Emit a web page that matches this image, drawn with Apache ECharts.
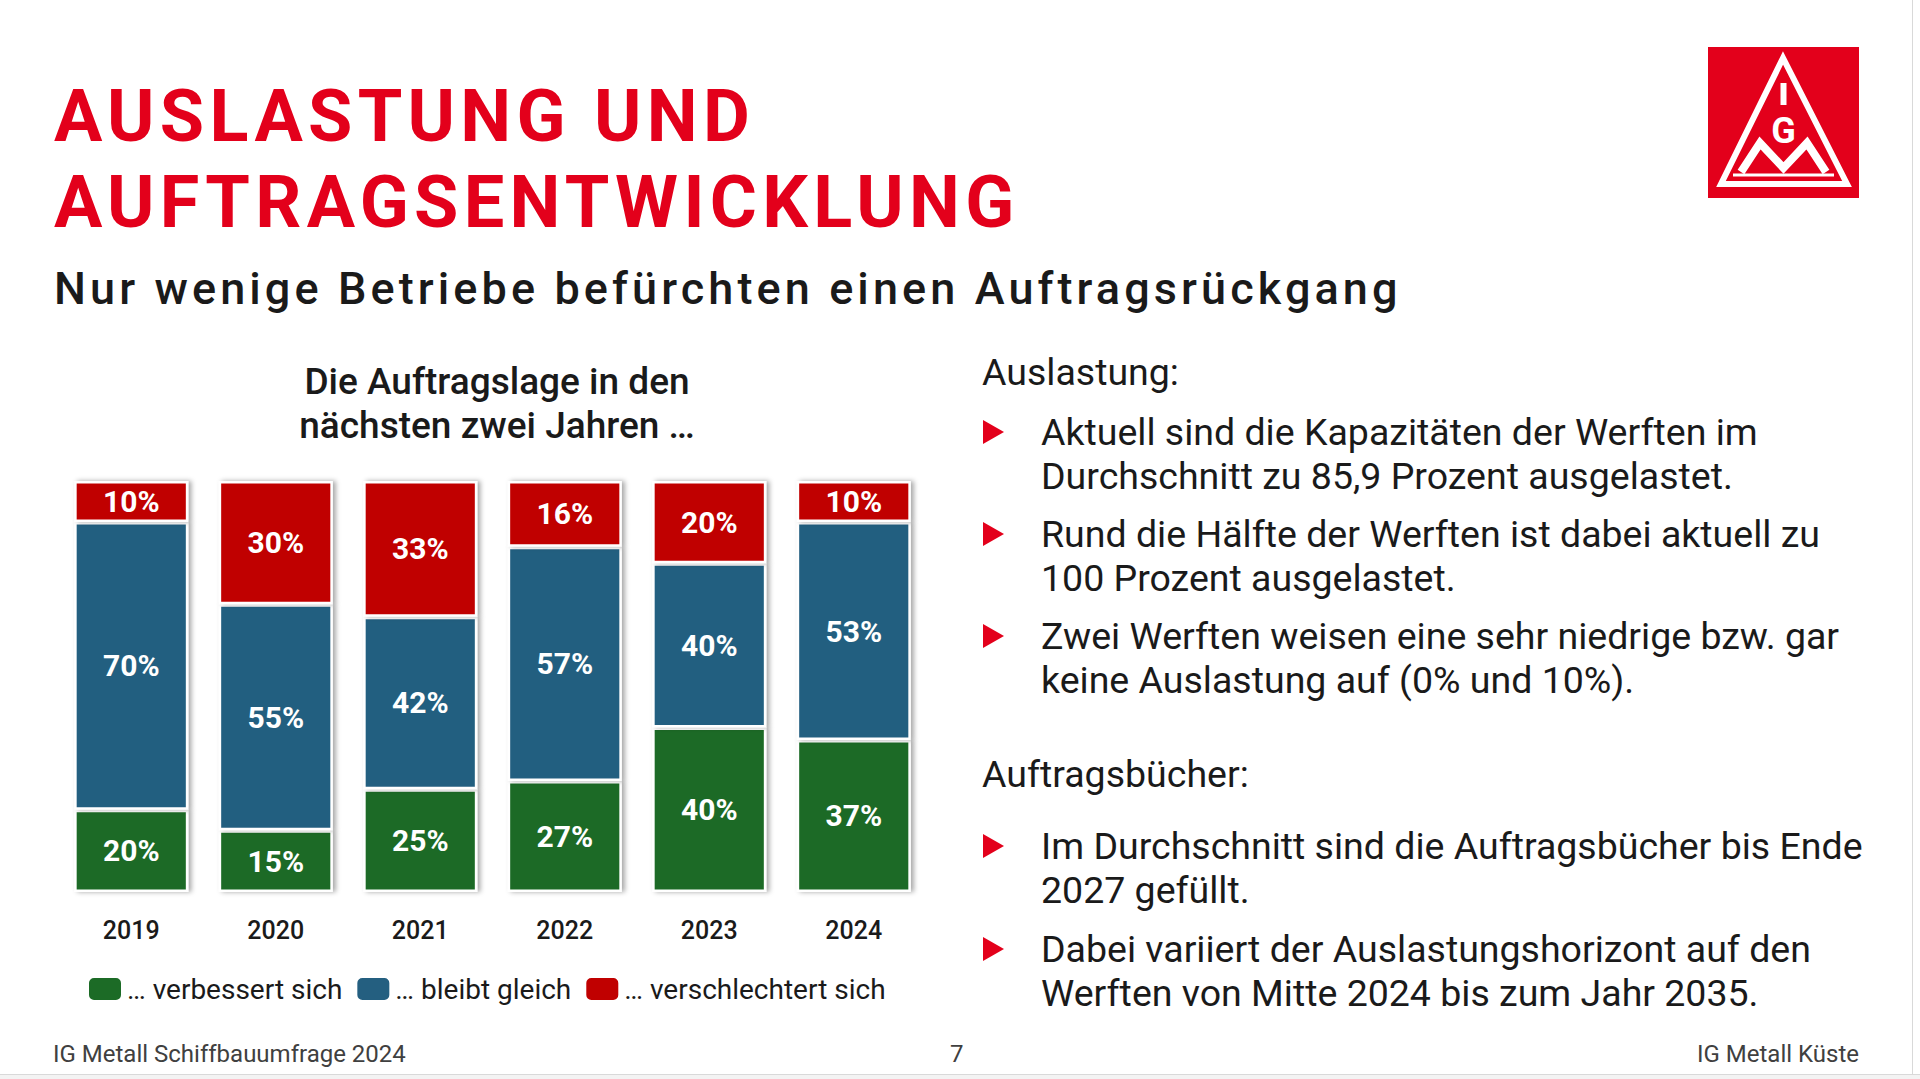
<!DOCTYPE html>
<html>
<head>
<meta charset="utf-8">
<script src="https://cdn.jsdelivr.net/npm/echarts@6/dist/echarts.min.js"></script>
<style>
  html,body{margin:0;padding:0;background:#fff;}
  body{width:1920px;height:1079px;position:relative;overflow:hidden;font-family:Roboto,"Noto Sans",sans-serif;color:#1a1a1a;}
  #chart{position:absolute;left:0;top:0;width:1920px;height:1079px;}
  .abs{position:absolute;white-space:nowrap;}
  .title{left:54px;font-size:72px;line-height:84px;height:84px;font-weight:700;color:#e3001b;letter-spacing:5.3px;}
  .sub{left:54px;top:264px;font-size:45px;line-height:50px;font-weight:500;color:#1a1a1a;letter-spacing:4.1px;}
  .txt{font-size:37.5px;line-height:44px;color:#1a1a1a;}
  .tri{position:absolute;width:0;height:0;border-top:12px solid transparent;border-bottom:12px solid transparent;border-left:21px solid #e3001b;}
  .foot{font-size:24px;line-height:28px;color:#404040;}
</style>
</head>
<body>
<div id="chart"></div>

<div class="abs title" style="top:75px;">AUSLASTUNG UND</div>
<div class="abs title" style="top:161px;">AUFTRAGSENTWICKLUNG</div>
<div class="abs sub">Nur wenige Betriebe befürchten einen Auftragsrückgang</div>

<svg class="abs" style="left:1708px;top:47px" width="151" height="151" viewBox="0 0 151 151">
  <rect x="0" y="0" width="151" height="151" fill="#e3001b"/>
  <polygon points="75,11 13,137 139,137" fill="none" stroke="#fff" stroke-width="6" stroke-linejoin="miter"/>
  <line x1="25" y1="128" x2="126" y2="128" stroke="#fff" stroke-width="3"/>
  <rect x="72.5" y="36" width="6" height="22" fill="#fff"/>
  <text x="75.5" y="96" text-anchor="middle" font-family="Roboto, sans-serif" font-weight="700" font-size="36" fill="#fff">G</text>
  <polyline points="33,125 52,96 75.5,121 99,96 118,125" fill="none" stroke="#fff" stroke-width="8" stroke-linejoin="miter"/>
</svg>

<div class="abs txt" style="left:982px;top:350px;">Auslastung:</div>
<div class="tri" style="left:983px;top:420px;"></div>
<div class="abs txt" style="left:1041px;top:410px;">Aktuell sind die Kapazitäten der Werften im<br>Durchschnitt zu 85,9 Prozent ausgelastet.</div>
<div class="tri" style="left:983px;top:522px;"></div>
<div class="abs txt" style="left:1041px;top:512px;">Rund die Hälfte der Werften ist dabei aktuell zu<br>100 Prozent ausgelastet.</div>
<div class="tri" style="left:983px;top:624px;"></div>
<div class="abs txt" style="left:1041px;top:614px;">Zwei Werften weisen eine sehr niedrige bzw. gar<br>keine Auslastung auf (0% und 10%).</div>
<div class="abs txt" style="left:982px;top:752px;">Auftragsbücher:</div>
<div class="tri" style="left:983px;top:834px;"></div>
<div class="abs txt" style="left:1041px;top:824px;">Im Durchschnitt sind die Auftragsbücher bis Ende<br>2027 gefüllt.</div>
<div class="tri" style="left:983px;top:937px;"></div>
<div class="abs txt" style="left:1041px;top:927px;">Dabei variiert der Auslastungshorizont auf den<br>Werften von Mitte 2024 bis zum Jahr 2035.</div>

<div class="abs foot" style="left:53px;top:1040px;">IG Metall Schiffbauumfrage 2024</div>
<div class="abs foot" style="left:950px;top:1040px;">7</div>
<div class="abs foot" style="right:61px;top:1040px;">IG Metall Küste</div>
<div class="abs" style="left:0;top:1074px;width:1920px;height:1px;background:#d9d9d9;"></div>
<div class="abs" style="left:0;top:1075px;width:1920px;height:4px;background:#f3f3f3;"></div>
<div class="abs" style="left:1912px;top:0;width:1px;height:1075px;background:#d9d9d9;"></div>

<script>
const years = ['2019', '2020', '2021', '2022', '2023', '2024'];
const improves = [20, 15, 25, 27, 40, 37];
const stays = [70, 55, 42, 57, 40, 53];
const worsens = [10, 30, 33, 16, 20, 10];
const seriesNames = ['… verbessert sich', '… bleibt gleich', '… verschlechtert sich'];
const chartTitle = 'Die Auftragslage in den\nnächsten zwei Jahren …';

const colors = ['#1c6b26', '#245f80', '#c00000'];
const chart = echarts.init(document.getElementById('chart'), null, {renderer: 'svg'});

function barSeries(name, data, color) {
  return {
    name: name,
    type: 'bar',
    stack: 'total',
    data: data,
    barWidth: '79%',
    itemStyle: {
      color: color,
      borderColor: '#ffffff',
      borderWidth: 2.5,
      shadowColor: 'rgba(0,0,0,0.35)',
      shadowBlur: 5,
      shadowOffsetX: 3,
      shadowOffsetY: 0
    },
    label: {
      show: true,
      position: 'inside',
      formatter: '{c}%',
      color: '#ffffff',
      fontSize: 30,
      fontWeight: 'bold',
      fontFamily: 'Roboto'
    },
    emphasis: {disabled: true}
  };
}

chart.setOption({
  animation: false,
  color: colors,
  title: {
    text: chartTitle,
    left: 492,
    textAlign: 'center',
    top: 354,
    textStyle: {fontSize: 37, fontWeight: 500, color: '#1a1a1a', lineHeight: 44, fontFamily: 'Roboto'}
  },
  legend: {
    data: seriesNames,
    left: 82,
    top: 970,
    icon: 'roundRect',
    itemWidth: 34,
    itemHeight: 24,
    itemGap: 13,
    textStyle: {fontSize: 28, color: '#1a1a1a', fontFamily: 'Roboto'}
  },
  grid: {left: 59, right: 994, top: 481, bottom: 187},
  xAxis: {
    type: 'category',
    data: years,
    axisTick: {show: false},
    axisLine: {lineStyle: {color: '#d6d6d6', width: 3, shadowColor: 'rgba(0,0,0,0.2)', shadowBlur: 3, shadowOffsetY: 2}},
    axisLabel: {margin: 26, fontSize: 25, fontWeight: 500, color: '#1a1a1a', fontFamily: 'Roboto'}
  },
  yAxis: {type: 'value', min: 0, max: 100, show: false},
  series: [
    barSeries(seriesNames[0], improves, colors[0]),
    barSeries(seriesNames[1], stays, colors[1]),
    barSeries(seriesNames[2], worsens, colors[2])
  ]
});
</script>
</body>
</html>
